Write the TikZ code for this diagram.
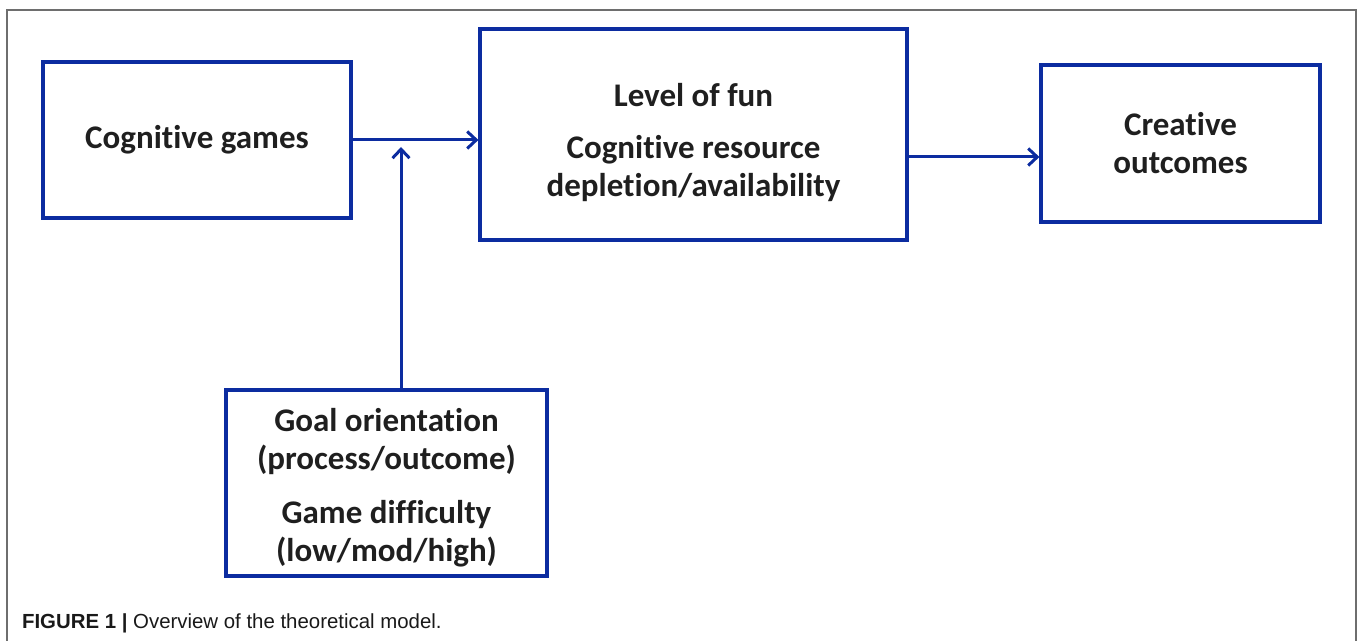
\documentclass[tikz,border=0pt]{standalone}
\usepackage{fontspec}
\setmainfont{Carlito}[Ligatures=NoCommon]
\newfontfamily\capfont{Liberation Sans}
\usetikzlibrary{arrows.meta}
\definecolor{boxblue}{RGB}{12,44,160}
\definecolor{framegray}{RGB}{110,110,110}

\tikzset{
    modelbox/.style={draw=boxblue, line width=1.6pt, align=center,
        font=\fontsize{16.5}{19}\selectfont\bfseries, text=black!88},
    link/.style={draw=boxblue, line width=1.5pt,
        -{Straight Barb[length=4.5pt, width=8.5pt, line width=1.5pt]}}
}

\begin{document}
\begin{tikzpicture}[x=0.5pt, y=-0.5pt]
    \useasboundingbox (0, 0) rectangle (1358, 641);
    % Open frame round the figure.
    \draw[framegray, line width=1pt] (7, 641) -- (7, 10) -- (1356, 10) -- (1356, 641);

    \node[modelbox, minimum width=154pt, minimum height=78pt] (games) at (197, 140)
        {Cognitive games};
    \node[modelbox, minimum width=213.5pt, minimum height=105.5pt] (fun) at (693.5, 134.5)
        {\rule{0pt}{20pt}Level of fun\\[7pt] Cognitive resource\\ depletion/availability};
    \node[modelbox, minimum width=139.5pt, minimum height=78.5pt] (creative) at (1180.5, 143.5)
        {Creative\\ outcomes};
    \node[modelbox, minimum width=160.5pt, minimum height=93pt] (goal) at (386.5, 483)
        {\rule{0pt}{16pt}Goal orientation\\ (process/outcome)\\[8pt] Game difficulty\\ (low/mod/high)};

    % Joints of the connectors.
    \coordinate (join) at (401, 147);
    \coordinate (out) at (970, 157);

    \draw[link] (games.east) -- (fun.west |- games.east);
    \draw[link] (goal.north -| join) -- (join);
    \draw[link] (fun.east |- out) -- (creative.west |- out);

    % Caption.
    \node[anchor=west, font=\capfont\fontsize{10.2}{12}\selectfont, text=black!90] (caption) at (15, 623)
        {\textbf{FIGURE 1 |} Overview of the theoretical model.};
\end{tikzpicture}
\end{document}
